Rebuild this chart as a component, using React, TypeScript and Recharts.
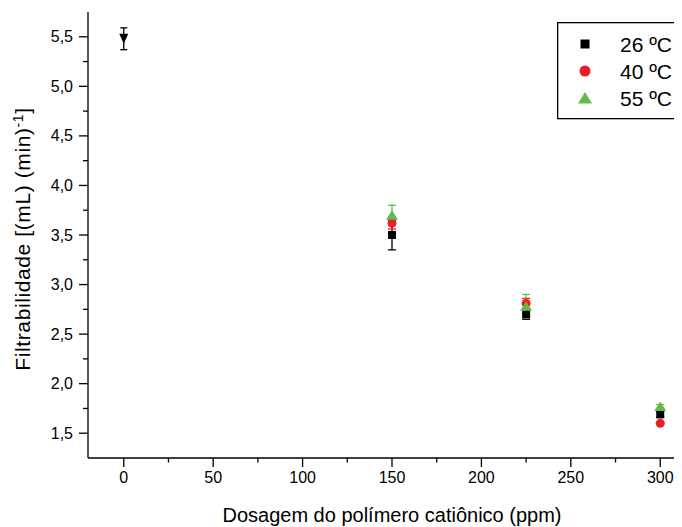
import React from "react";
import { ScatterChart, Scatter, XAxis, YAxis, ErrorBar, Legend, Label } from "recharts";

// dosage of cationic polymer (ppm)
const dosages = [150, 225, 300];

// filtrability per temperature, with standard deviation
const filt26 = [3.5, 2.7, 1.69];
const err26 = [0.15, 0.05, 0.03];
const filt40 = [3.62, 2.81, 1.6];
const err40 = [0.06, 0.05, 0.01];
const filt55 = [3.7, 2.78, 1.77];
const err55 = [0.1, 0.12, 0.02];

// reference point without polymer
const zeroDose = [0];
const filtZero = [5.48];
const errZero = [0.11];

const seriesNames = ["26 ºC", "40 ºC", "55 ºC"];

const xMajorTicks = [0, 50, 100, 150, 200, 250, 300];
const xMinorTicks = [25, 75, 125, 175, 225, 275];
const yMajorTicks = [1.5, 2, 2.5, 3, 3.5, 4, 4.5, 5, 5.5];
const yMinorTicks = [1.75, 2.25, 2.75, 3.25, 3.75, 4.25, 4.75, 5.25];

const RED = "#ED1C24";
const GREEN = "#62BB46";
const FONT = "Arial, 'Liberation Sans', sans-serif";

const toPoints = (xs: number[], ys: number[], es: number[]) =>
  xs.map((x, i) => ({ x, y: ys[i], err: es[i] }));

const data26 = toPoints(dosages, filt26, err26);
const data40 = toPoints(dosages, filt40, err40);
const data55 = toPoints(dosages, filt55, err55);
const dataZero = toPoints(zeroDose, filtZero, errZero);

const xTicks = [...xMajorTicks, ...xMinorTicks].sort((a, b) => a - b);
const yTicks = [...yMajorTicks, ...yMinorTicks].sort((a, b) => a - b);

const Square = (p: any) => <rect x={p.cx - 4} y={p.cy - 4} width={8} height={8} fill="#000" />;
const Dot = (p: any) => <circle cx={p.cx} cy={p.cy} r={4.5} fill={RED} />;
const Tri = (p: any) => (
  <polygon points={`${p.cx},${p.cy - 5} ${p.cx + 6},${p.cy + 4.5} ${p.cx - 6},${p.cy + 4.5}`} fill={GREEN} />
);
const DownTri = (p: any) => (
  <polygon points={`${p.cx - 4.5},${p.cy - 5} ${p.cx + 4.5},${p.cy - 5} ${p.cx},${p.cy + 5}`} fill="#000" />
);

const BottomTick = (props: any) => {
  const { x, y, payload } = props;
  const major = xMajorTicks.includes(payload.value);
  return (
    <g>
      <line x1={x} x2={x} y1={y} y2={y + (major ? 9 : 4.5)} stroke="#000" strokeWidth={1.3} />
      {major && (
        <text x={x} y={y + 25} textAnchor="middle" fontSize={16} fontFamily={FONT} fill="#000">
          {payload.value}
        </text>
      )}
    </g>
  );
};

const TopTick = (props: any) => {
  const { x, y } = props;
  return <line x1={x} x2={x} y1={y} y2={y - 3} stroke="#777" strokeWidth={1} />;
};

const LeftTick = (props: any) => {
  const { x, y, payload } = props;
  const major = yMajorTicks.includes(payload.value);
  return (
    <g>
      <line x1={x} x2={x - (major ? 9 : 5)} y1={y} y2={y} stroke="#000" strokeWidth={1.3} />
      {major && (
        <text x={x - 15} y={y + 5.5} textAnchor="end" fontSize={16} fontFamily={FONT} fill="#000">
          {payload.value.toFixed(1).replace(".", ",")}
        </text>
      )}
    </g>
  );
};

const YTitle = (props: any) => {
  const vb = props.viewBox;
  const cx = 30;
  const cy = vb.y + vb.height / 2 + 4;
  return (
    <text
      x={cx}
      y={cy}
      transform={`rotate(-90, ${cx}, ${cy})`}
      textAnchor="middle"
      fontSize={21}
      letterSpacing={0.6}
      fontFamily={FONT}
      fill="#000"
    >
      <tspan>Filtrabilidade [(mL) (min)</tspan>
      <tspan dy={-7} fontSize={14}>-1</tspan>
      <tspan dy={7}>]</tspan>
    </text>
  );
};

const XTitle = (props: any) => {
  const vb = props.viewBox;
  return (
    <text x={vb.x + vb.width / 2} y={522} textAnchor="middle" fontSize={20} fontFamily={FONT} fill="#000">
      Dosagem do polímero catiônico (ppm)
    </text>
  );
};

const legendMarkers = [
  (cx: number, cy: number) => <rect x={cx - 4.5} y={cy - 4.5} width={9} height={9} fill="#000" />,
  (cx: number, cy: number) => <circle cx={cx} cy={cy} r={5.5} fill={RED} />,
  (cx: number, cy: number) => (
    <polygon points={`${cx},${cy - 6} ${cx + 7},${cy + 5.5} ${cx - 7},${cy + 5.5}`} fill={GREEN} />
  ),
];

const LegendBox = () => (
  <svg width={125} height={98} style={{ display: "block" }}>
    <rect x={0.65} y={0.65} width={123.5} height={96} fill="#fff" stroke="#000" strokeWidth={1.3} />
    {seriesNames.map((name, i) => (
      <g key={name}>
        {legendMarkers[i](28, 22 + i * 27)}
        <text x={63} y={29.5 + i * 27} fontSize={21} fontFamily={FONT} fill="#000">
          {name}
        </text>
      </g>
    ))}
  </svg>
);

export default function App() {
  return (
    <div style={{ margin: "-8px 0 0 -8px", width: 682, height: 527, overflow: "hidden", position: "relative", background: "#fff" }}>
      <ScatterChart width={700} height={527} margin={{ top: 12, right: 4, left: 0, bottom: 0 }}>
        <XAxis
          xAxisId="bottom"
          type="number"
          dataKey="x"
          domain={[-20, 320]}
          ticks={xTicks}
          interval={0}
          tickSize={0}
          tickMargin={0}
          tickLine={false}
          tick={<BottomTick />}
          height={69}
          axisLine={{ stroke: "#000", strokeWidth: 1.3 }}
          allowDataOverflow
        >
          <Label content={<XTitle />} />
        </XAxis>
        <XAxis
          xAxisId="top"
          orientation="top"
          type="number"
          dataKey="x"
          domain={[-20, 320]}
          ticks={xTicks}
          interval={0}
          tickSize={0}
          tickMargin={0}
          tickLine={false}
          tick={<TopTick />}
          height={0}
          axisLine={{ stroke: "#000", strokeWidth: 1.3 }}
          allowDataOverflow
        />
        <YAxis
          type="number"
          dataKey="y"
          domain={[1.25, 5.75]}
          ticks={yTicks}
          interval={0}
          tickSize={0}
          tickMargin={0}
          tickLine={false}
          tick={<LeftTick />}
          width={88}
          axisLine={{ stroke: "#000", strokeWidth: 1.3 }}
          allowDataOverflow
        >
          <Label content={<YTitle />} />
        </YAxis>
        <Legend
          layout="vertical"
          align="center"
          verticalAlign="middle"
          content={<LegendBox />}
          wrapperStyle={{ left: 557, top: 22, width: 125, height: 98 }}
        />
        <Scatter name="0 ppm" xAxisId="bottom" data={dataZero} shape={DownTri} legendType="none" isAnimationActive={false}>
          <ErrorBar dataKey="err" direction="y" width={3.5} stroke="#000" strokeWidth={1.3} />
        </Scatter>
        <Scatter name={seriesNames[0]} xAxisId="bottom" data={data26} shape={Square} isAnimationActive={false}>
          <ErrorBar dataKey="err" direction="y" width={4} stroke="#000" strokeWidth={1.3} />
        </Scatter>
        <Scatter name={seriesNames[1]} xAxisId="bottom" data={data40} shape={Dot} isAnimationActive={false}>
          <ErrorBar dataKey="err" direction="y" width={4} stroke={RED} strokeWidth={1.3} />
        </Scatter>
        <Scatter name={seriesNames[2]} xAxisId="bottom" data={data55} shape={Tri} isAnimationActive={false}>
          <ErrorBar dataKey="err" direction="y" width={4} stroke={GREEN} strokeWidth={1.3} />
        </Scatter>
      </ScatterChart>
    </div>
  );
}
